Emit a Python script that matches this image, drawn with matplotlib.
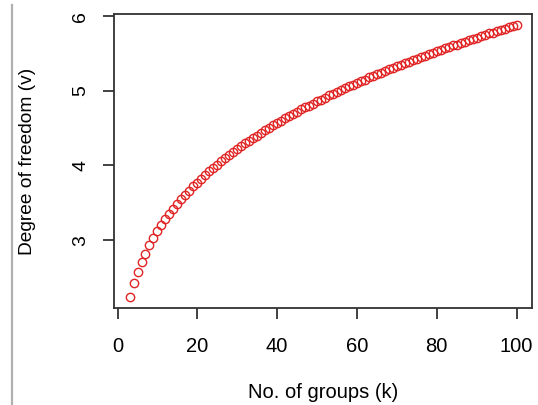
import numpy as np
import matplotlib
matplotlib.use("Agg")
import matplotlib.pyplot as plt
from matplotlib.lines import Line2D

plt.rcParams['font.family'] = ['Liberation Sans', 'DejaVu Sans']

# number of groups (k) and the degree of freedom
k = list(range(3, 101))
v = [2.24, 2.42, 2.57, 2.71, 2.82, 2.93, 3.03, 3.12, 3.20, 3.28,
     3.35, 3.42, 3.49, 3.55, 3.61, 3.66, 3.72, 3.77, 3.82, 3.87,
     3.92, 3.97, 4.01, 4.06, 4.10, 4.14, 4.18, 4.22, 4.26, 4.30,
     4.33, 4.37, 4.40, 4.44, 4.47, 4.50, 4.54, 4.57, 4.60, 4.63,
     4.66, 4.69, 4.72, 4.75, 4.78, 4.80, 4.83, 4.86, 4.88, 4.91,
     4.94, 4.96, 4.99, 5.01, 5.04, 5.06, 5.08, 5.11, 5.13, 5.15,
     5.18, 5.20, 5.22, 5.24, 5.27, 5.29, 5.31, 5.33, 5.35, 5.37,
     5.39, 5.41, 5.43, 5.45, 5.47, 5.49, 5.51, 5.53, 5.55, 5.57,
     5.59, 5.61, 5.62, 5.64, 5.66, 5.68, 5.70, 5.71, 5.73, 5.75,
     5.77, 5.78, 5.80, 5.82, 5.83, 5.85, 5.87, 5.88]

xticks = [0, 20, 40, 60, 80, 100]
yticks = [3, 4, 5, 6]

fig = plt.figure(figsize=(5.38, 4.05), dpi=100)
ax = fig.add_axes([0.212, 0.2395, 0.777, 0.726])

ax.plot(k, v, 'o', markerfacecolor='none', markeredgecolor='#e02424',
        markersize=6.0, markeredgewidth=1.0)

# R style 4% padding
ax.set_xlim(-0.88, 103.88)
ax.set_ylim(2.09, 6.03)
ax.set_xticks(xticks)
ax.set_yticks(yticks)

for s in ax.spines.values():
    s.set_color('#333333')
    s.set_linewidth(1.3)
ax.tick_params(direction='out', length=8, width=1.3, color='#333333')
ax.tick_params(axis='x', labelsize=14.5, pad=13)
ax.tick_params(axis='y', labelsize=14, pad=10, labelrotation=90)
for lab in ax.get_yticklabels():
    lab.set_va('center')

ax.set_xlabel('No. of groups (k)', fontsize=14.5, labelpad=19)
ax.set_ylabel('Degree of freedom (v)', fontsize=13.8, labelpad=26)

# grey rule along the left edge of the picture
fig.add_artist(Line2D([12 / 538, 12 / 538], [0, 1 - 5 / 405],
                      transform=fig.transFigure, color='#b0b0b0', lw=1.6))

plt.savefig('out.png', dpi=100)
